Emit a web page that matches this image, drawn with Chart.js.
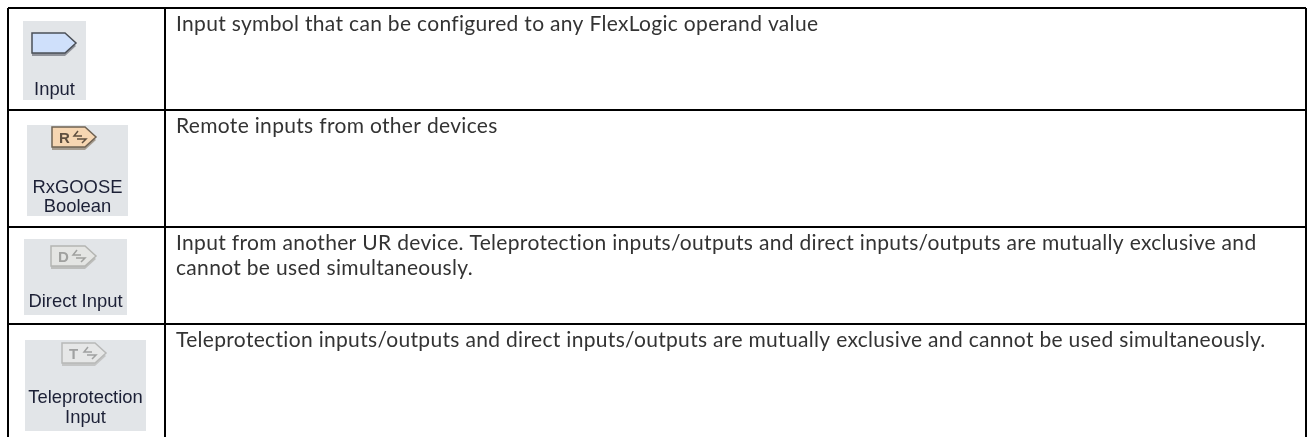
<!DOCTYPE html>
<html><head><meta charset="utf-8">
<style>html,body{margin:0;padding:0;background:#fff}#w{position:relative;width:1309px;height:437px}</style>
<script src="https://cdn.jsdelivr.net/npm/chart.js@4/dist/chart.umd.min.js"></script>
</head><body><div id="w"><canvas id="c" width="1309" height="437"></canvas></div>
<script>
const rowEdges = [0, 102, 218.5, 316, 429];
const columnEdges = [0, 157, 1298];
const symbolLabels = [["Input"], ["RxGOOSE", "Boolean"], ["Direct Input"], ["Teleprotection", "Input"]];
const symbolLetters = ["", "R", "D", "T"];
const descriptions = [
  ["Input symbol that can be configured to any FlexLogic operand value"],
  ["Remote inputs from other devices"],
  ["Input from another UR device. Teleprotection inputs/outputs and direct inputs/outputs are mutually exclusive and", "cannot be used simultaneously."],
  ["Teleprotection inputs/outputs and direct inputs/outputs are mutually exclusive and cannot be used simultaneously."]
];
const panelBoxes = [[15,13,63,79],[19,117,101,91],[16,231,103,76],[17,332,121,91]];
const symbolBoxes = [[24,25,44,20],[44,119,44,20],[43,238,45,20],[54,335,44,20]];
const symbolFills = ["#cfe0fb","#f6d6b2","#e4e5e3","#e6e7e7"];
const symbolEdges = ["#4b5058","#6e6152","#b4b5b2","#b8b9b8"];
const shadowColors = ["#8f929a","#a59c90","#bdbebc","#c4c5c5"];
const glyphColors = ["#000","#5f4f3f","#a0a19f","#a0a1a1"];
const labelBaselines = [[87],[185,204],[299],[395,415]];

const tablePlugin = {
  id:"table",
  afterDatasetsDraw(chart){
    const g=chart.ctx, X=chart.scales.x, Y=chart.scales.y;
    const px=v=>X.getPixelForValue(v), py=v=>Y.getPixelForValue(v);
    g.save();
    g.textBaseline="alphabetic";
    g.fillStyle="#333";
    g.font='21px "Lato"';
    g.letterSpacing="0.32px";
    descriptions.forEach((lines,r)=>{
      lines.forEach((t,i)=>{
        g.fillText(t,px(columnEdges[1])+11,py(rowEdges[r])+23+i*25);
      });
    });
    g.letterSpacing="0px";
    panelBoxes.forEach((b,r)=>{
      g.fillStyle="#e2e5e8";
      g.fillRect(px(b[0]),py(b[1]),b[2],b[3]);
      const [sx,sy,sw,sh]=symbolBoxes[r];
      const x=px(sx),y=py(sy),tip=11;
      const path=dy=>{g.beginPath();g.moveTo(x,y+dy);g.lineTo(x+sw-tip,y+dy);g.lineTo(x+sw,y+sh/2+dy);g.lineTo(x+sw-tip,y+sh+dy);g.lineTo(x,y+sh+dy);g.closePath();};
      g.filter="blur(0.5px)";
      path(3);g.fillStyle=shadowColors[r];g.fill();
      path(0);g.fillStyle=symbolFills[r];g.fill();
      g.lineWidth=1.5;g.strokeStyle=symbolEdges[r];g.stroke();
      if(symbolLetters[r]){
        g.fillStyle=glyphColors[r];
        g.font='bold 15px "Liberation Sans"';
        g.fillText(symbolLetters[r],x+7,y+sh/2+5.5);
        g.strokeStyle=glyphColors[r];g.lineWidth=1.5;
        g.beginPath();
        const a=x+22,m=y+sh/2;
        g.moveTo(a+4,m-6);g.lineTo(a,m-1);g.lineTo(a+8,m-1);
        g.moveTo(a+3,m+2);g.lineTo(a+12,m+2);g.lineTo(a+8,m+6);
        g.stroke();
      }
      g.fillStyle="#1c2036";
      g.font='18.4px "Liberation Sans"';
      g.textAlign="center";
      symbolLabels[r].forEach((t,i)=>g.fillText(t,px(b[0])+b[2]/2,py(labelBaselines[r][i])));
      g.textAlign="left";
      g.filter="none";
    });
    g.restore();
  }
};

new Chart(document.getElementById("c"),{
  type:"scatter",
  data:{datasets:[{data:[],pointRadius:0}]},
  plugins:[tablePlugin],
  options:{
    responsive:false,animation:false,
    layout:{padding:{left:8,top:8,right:3,bottom:0}},
    plugins:{legend:{display:false},tooltip:{enabled:false}},
    scales:{
      x:{type:"linear",min:columnEdges[0],max:columnEdges[2],
        afterBuildTicks:s=>{s.ticks=columnEdges.map(value=>({value}));},
        ticks:{display:false},border:{display:false},
        grid:{color:"#000",lineWidth:2,drawTicks:false}},
      y:{type:"linear",reverse:true,min:rowEdges[0],max:rowEdges[4],
        afterBuildTicks:s=>{s.ticks=rowEdges.slice(0,4).map(value=>({value}));},
        ticks:{display:false},border:{display:false},
        grid:{color:"#000",lineWidth:2,drawTicks:false}}
    }
  }
});
</script></body></html>
